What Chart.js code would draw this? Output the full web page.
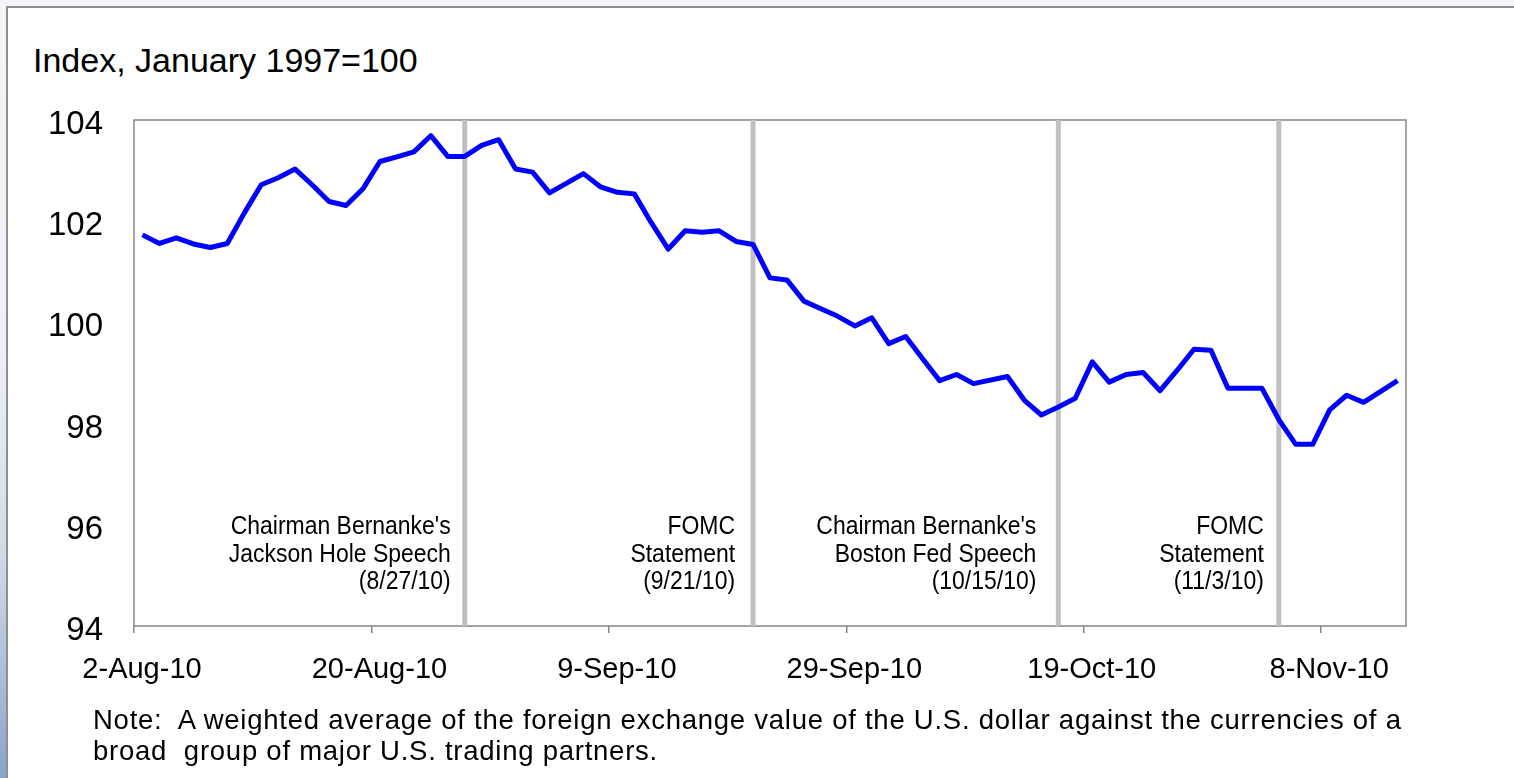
<!DOCTYPE html>
<html>
<head>
<meta charset="utf-8">
<script src="https://cdn.jsdelivr.net/npm/chart.js@4.4.0/dist/chart.umd.min.js"></script>
<style>
html,body{margin:0;padding:0;width:1514px;height:778px;overflow:hidden;}
body{position:relative;font-family:"Liberation Sans",Arial,sans-serif;
  background:linear-gradient(to bottom,#f3f5f8 0%,#edf0f5 45%,#d3dbe8 70%,#a9bbd8 88%,#8aa3cb 100%);}
#panel{position:absolute;left:6px;top:6px;width:1600px;height:900px;background:#fff;
  border-left:2px solid #8f8f8f;border-top:2px solid #8f8f8f;}
#wrap{position:absolute;left:0;top:0;width:1514px;height:778px;}
#title{position:absolute;left:33px;top:40px;height:40px;line-height:40px;font-size:34px;color:#000;white-space:pre;}
#note{position:absolute;left:93px;top:704px;line-height:31px;font-size:27.5px;letter-spacing:0.75px;color:#000;white-space:pre;}
</style>
</head>
<body>
<div id="panel"></div>
<div id="title">Index, January 1997=100</div>
<div id="wrap"><canvas id="c"></canvas></div>
<div id="note">Note:  A weighted average of the foreign exchange value of the U.S. dollar against the currencies of a
broad  group of major U.S. trading partners.</div>
<script>
// ---- data ----
const categories = [
 '8/2','8/3','8/4','8/5','8/6','8/9','8/10','8/11','8/12','8/13','8/16','8/17','8/18','8/19','8/20',
 '8/23','8/24','8/25','8/26','8/27','8/30','8/31',
 '9/1','9/2','9/3','9/6','9/7','9/8','9/9','9/10','9/13','9/14','9/15','9/16','9/17','9/20','9/21',
 '9/22','9/23','9/24','9/27','9/28','9/29','9/30',
 '10/1','10/4','10/5','10/6','10/7','10/8','10/11','10/12','10/13','10/14','10/15','10/18','10/19',
 '10/20','10/21','10/22','10/25','10/26','10/27','10/28','10/29',
 '11/1','11/2','11/3','11/4','11/5','11/8','11/9','11/10','11/11','11/12'
];
const dollarIndex = [
 101.73,101.56,101.67,101.55,101.48,101.56,102.16,102.72,102.86,103.03,102.72,102.39,102.31,102.64,103.18,
 103.27,103.37,103.69,103.28,103.28,103.50,103.61,
 103.03,102.97,102.56,null,102.94,102.68,102.57,102.54,101.97,101.45,101.81,101.78,101.81,101.60,101.54,
 100.88,100.84,100.42,100.27,100.12,99.93,100.09,
 99.58,99.72,99.28,98.85,98.97,98.79,null,98.93,98.46,98.17,98.33,98.50,99.22,
 98.82,98.97,99.01,98.65,99.05,99.47,99.45,98.70,
 98.70,98.70,98.08,97.59,97.59,98.27,98.56,98.42,null,98.85
];
const tickDates  = ['8/2','8/20','9/9','9/29','10/19','11/8'];
const tickLabels = ['2-Aug-10','20-Aug-10','9-Sep-10','29-Sep-10','19-Oct-10','8-Nov-10'];
const yTicks = [94,96,98,100,102,104];
const eventDates = ['8/27','9/21','10/15','11/3'];
const eventLabels = [
 ["Chairman Bernanke's","Jackson Hole Speech","(8/27/10)"],
 ["FOMC","Statement","(9/21/10)"],
 ["Chairman Bernanke's","Boston Fed Speech","(10/15/10)"],
 ["FOMC","Statement","(11/3/10)"]
];
const yMin = 94, yMax = 104;

// ---- build ----
const FONT = '"Liberation Sans", Arial, sans-serif';
const tickIdx = tickDates.map(d => categories.indexOf(d));
const eventIdx = eventDates.map(d => categories.indexOf(d));

const datasets = [{
  label: 'Broad dollar index',
  data: dollarIndex.map((v, i) => ({x: i + 0.5, y: v})),
  borderColor: '#0000ff', borderWidth: 5, pointRadius: 0, tension: 0,
  spanGaps: true, order: 0, borderJoinStyle: 'round', fill: false
}];
eventIdx.forEach(ix => {
  datasets.push({
    data: [{x: ix + 0.5, y: yMin}, {x: ix + 0.5, y: yMax}],
    borderColor: '#c0c0c0', borderWidth: 5, pointRadius: 0, order: 1, fill: false
  });
});

const framePlugin = {
  id: 'frame',
  beforeDatasetsDraw(chart) {
    const a = chart.chartArea, ctx = chart.ctx;
    ctx.save();
    ctx.strokeStyle = '#878787'; ctx.lineWidth = 1.5;
    ctx.strokeRect(a.left, a.top, a.right - a.left, a.bottom - a.top);
    ctx.restore();
  }
};
const notePlugin = {
  id: 'eventNotes',
  afterDatasetsDraw(chart, args, opts) {
    const ctx = chart.ctx, xs = chart.scales.x;
    ctx.save();
    ctx.font = opts.size + 'px ' + FONT;
    ctx.fillStyle = '#000'; ctx.textAlign = 'right'; ctx.textBaseline = 'middle';
    eventIdx.forEach((ix, k) => {
      const x = xs.getPixelForValue(ix + 0.5) - opts.gaps[k];
      eventLabels[k].forEach((t, j) => {
        ctx.save();
        ctx.translate(x, opts.lineY[j]);
        ctx.scale(opts.squeeze, 1);
        ctx.fillText(t, 0, 0);
        ctx.restore();
      });
    });
    ctx.restore();
  }
};

new Chart(document.getElementById('c'), {
  type: 'line',
  data: {datasets},
  plugins: [framePlugin, notePlugin],
  options: {
    animation: false, responsive: true, maintainAspectRatio: false,
    layout: {padding: {left: 0, top: 120, right: 108, bottom: 0}},
    plugins: {
      legend: {display: false}, tooltip: {enabled: false}, title: {display: false},
      eventNotes: {size: 25.5, squeeze: 0.9, gaps: [14, 18, 22, 15], lineY: [527, 554.5, 582]}
    },
    scales: {
      x: {
        type: 'linear', min: 0, max: categories.length,
        afterBuildTicks: s => { s.ticks = tickIdx.map(v => ({value: v})); },
        afterFit: s => { s.height = 152; },
        grid: {display: true, drawOnChartArea: false, drawTicks: true, tickLength: 7, color: '#878787', lineWidth: 1.5},
        border: {display: false},
        ticks: {
          callback: v => tickLabels[tickIdx.indexOf(v)],
          font: {family: FONT, size: 29}, color: '#000', padding: 20, labelOffset: 8,
          maxRotation: 0, autoSkip: false
        }
      },
      y: {
        type: 'linear', min: yMin, max: yMax,
        afterBuildTicks: s => { s.ticks = yTicks.map(v => ({value: v})); },
        afterFit: s => { s.width = 134; },
        grid: {display: false, drawTicks: false},
        border: {display: false},
        ticks: {callback: v => String(v), font: {family: FONT, size: 33}, color: '#000', padding: 31, labelOffset: 5}
      }
    }
  }
});
</script>
</body>
</html>
